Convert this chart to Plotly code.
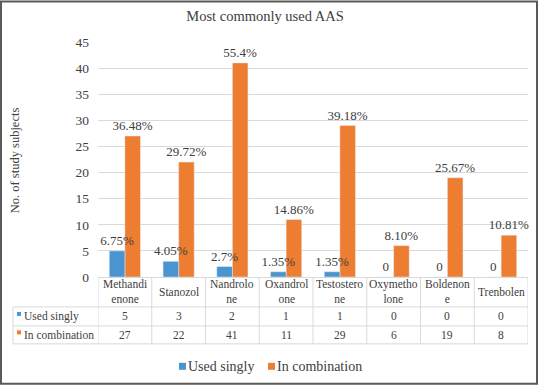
import plotly.graph_objects as go

categories = ["Methandienone", "Stanozol", "Nandrolone", "Oxandrolone",
              "Testosterone", "Oxymetholone", "Boldenone", "Trenbolen"]
table_labels = ["Methandi<br>enone", "Stanozol", "Nandrolo<br>ne", "Oxandrol<br>one",
                "Testostero<br>ne", "Oxymetho<br>lone", "Boldenon<br>e", "Trenbolen"]
series_names = ["Used singly", "In combination"]
used_singly = [5, 3, 2, 1, 1, 0, 0, 0]
in_combination = [27, 22, 41, 11, 29, 6, 19, 8]
singly_labels = ["6.75%", "4.05%", "2.7%", "1.35%", "1.35%", "0", "0", "0"]
combo_labels = ["36.48%", "29.72%", "55.4%", "14.86%", "39.18%", "8.10%", "25.67%", "10.81%"]
y_ticks = [0, 5, 10, 15, 20, 25, 30, 35, 40, 45]

BLUE = "#4a94cf"
ORANGE = "#ed7d31"
FONT = "Liberation Serif"
TXT = "#404040"
GRID = "#d9d9d9"

W, H = 538, 385
L, R, T, B = 98, 528, 41.5, 277   # plot area pixel box

def px(x):
    return (x - L) / (R - L)

def py(y):
    return (B - y) / (B - T)

n = len(categories)
xs = list(range(n))
BW = 0.29  # bar width in category units

fig = go.Figure()
# orange first so the blue labels are drawn above the orange bars
fig.add_trace(go.Bar(
    x=xs, y=in_combination, name=series_names[1], marker_color=ORANGE,
    width=BW, offset=0,
    text=combo_labels, textposition="outside", cliponaxis=False, constraintext="none",
    textfont=dict(family=FONT, size=13, color=TXT),
))
fig.add_trace(go.Bar(
    x=xs, y=used_singly, name=series_names[0], marker_color=BLUE,
    width=BW, offset=-BW,
    text=singly_labels, textposition="outside", cliponaxis=False, constraintext="none",
    textfont=dict(family=FONT, size=13, color=TXT),
))

shapes = []
line = dict(color=GRID, width=1)
for yy in [307, 326, 344]:
    shapes.append(dict(type="line", xref="paper", yref="paper",
                       x0=px(13), x1=1, y0=py(yy), y1=py(yy), line=line))
for k in range(n + 1):
    shapes.append(dict(type="line", xref="x", yref="paper",
                       x0=k - 0.5, x1=k - 0.5, y0=py(B), y1=py(344), line=line))
shapes.append(dict(type="line", xref="paper", yref="paper",
                   x0=px(13), x1=px(13), y0=py(307), y1=py(344), line=line))
# row-label colour keys in table
for yc, col in [(316.5, BLUE), (335, ORANGE)]:
    shapes.append(dict(type="rect", xref="paper", yref="paper",
                       x0=px(17), x1=px(21), y0=py(yc - 4.5), y1=py(yc - 0.5),
                       line=dict(width=0), fillcolor=col))
# legend keys
for x0, col in [(179, BLUE), (268, ORANGE)]:
    shapes.append(dict(type="rect", xref="paper", yref="paper",
                       x0=px(x0), x1=px(x0 + 7), y0=py(370), y1=py(363),
                       line=dict(width=0), fillcolor=col))
# outer frame
shapes.append(dict(type="rect", xref="paper", yref="paper",
                   x0=px(1), x1=px(537), y0=py(1), y1=py(384),
                   line=dict(color="#5a5a5a", width=2)))

def ann(x, y, text, size, xref="paper", xanchor="center", **kw):
    return dict(xref=xref, yref="paper", x=x, y=y, text=text, showarrow=False,
                xanchor=xanchor, yanchor="middle",
                font=dict(family=FONT, size=size, color=TXT), **kw)

annotations = []
for i in range(n):
    annotations.append(ann(i, py(292), table_labels[i], 11.5, xref="x"))
    annotations.append(ann(i, py(316.5), str(used_singly[i]), 11.5, xref="x"))
    annotations.append(ann(i, py(335), str(in_combination[i]), 11.5, xref="x"))
annotations.append(ann(px(22), py(316.5), series_names[0], 11.5, xanchor="left"))
annotations.append(ann(px(22), py(335), series_names[1], 11.5, xanchor="left"))
annotations.append(ann(px(186), py(367), series_names[0], 14, xanchor="left"))
annotations.append(ann(px(275), py(367), series_names[1], 14, xanchor="left"))
annotations.append(ann(px(15), py(160), "No. of study subjects", 12.5, textangle=-90))

fig.update_layout(
    width=W, height=H,
    margin=dict(l=L, r=W - R, t=T, b=H - B, autoexpand=False),
    paper_bgcolor="white", plot_bgcolor="white",
    title=dict(text="Most commonly used AAS", x=px(265), xref="paper", xanchor="center",
               y=1 - 15.5 / H, yanchor="middle",
               font=dict(family=FONT, size=14.5, color=TXT)),
    barmode="overlay",
    xaxis=dict(range=[-0.5, n - 0.5], showticklabels=False, showgrid=False,
               zeroline=False, ticks=""),
    yaxis=dict(range=[0, 45], tickvals=y_ticks, showgrid=True, gridcolor=GRID,
               zeroline=True, zerolinecolor=GRID, zerolinewidth=1,
               tickfont=dict(family=FONT, size=13.5, color=TXT), ticks="",
               ticklabelstandoff=8),
    shapes=shapes, annotations=annotations,
    showlegend=False,
)

fig.write_html("out.html", config={"displayModeBar": False},
               post_script="document.body.style.margin='0';document.body.style.overflow='hidden';")
